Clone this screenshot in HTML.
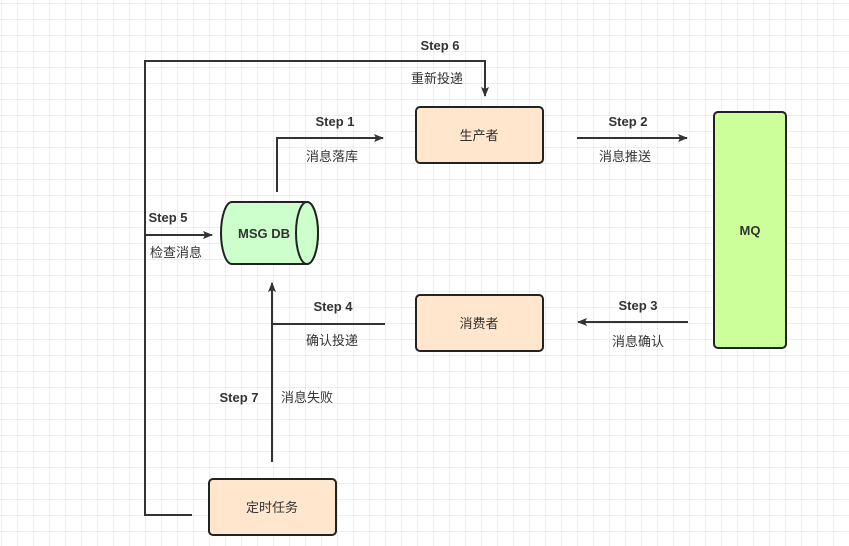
<!DOCTYPE html>
<html><head><meta charset="utf-8"><style>
html,body{margin:0;padding:0;background:#fff;}
svg{display:block;}
text{font-family:"Liberation Sans","Noto Sans CJK SC",sans-serif;font-size:13px;fill:#333;}
.b{font-weight:bold;}
</style></head><body>
<svg width="849" height="546" viewBox="0 0 849 546" xmlns="http://www.w3.org/2000/svg">
<defs>
<pattern id="g" width="16" height="16" patternUnits="userSpaceOnUse" x="2" y="4">
<path d="M16 0V16M0 16H16" fill="none" stroke="#dcdcdc" stroke-width="1"/>
</pattern>
<marker id="a" markerWidth="10" markerHeight="8" refX="9" refY="4" orient="auto" markerUnits="userSpaceOnUse">
<path d="M0 0L10 4L0 8L2 4Z" fill="#333"/>
</marker>
</defs>
<rect width="849" height="546" fill="#fff"/>
<rect x="0" y="0" width="849" height="546" fill="url(#g)"/>
<g stroke="#333" stroke-width="2" fill="none">
<path d="M192 515H145V61H485V96" marker-end="url(#a)"/>
<path d="M145 235H212" marker-end="url(#a)"/>
<path d="M277 192V138H383" marker-end="url(#a)"/>
<path d="M577 138H687" marker-end="url(#a)"/>
<path d="M688 322H578" marker-end="url(#a)"/>
<path d="M385 324H272"/>
<path d="M272 462V283" marker-end="url(#a)"/>
</g>
<rect x="416" y="107" width="127" height="56" rx="4" fill="#ffe6cc" stroke="#222" stroke-width="2"/>
<rect x="416" y="295" width="127" height="56" rx="4" fill="#ffe6cc" stroke="#222" stroke-width="2"/>
<rect x="209" y="479" width="127" height="56" rx="4" fill="#ffe6cc" stroke="#222" stroke-width="2"/>
<rect x="714" y="112" width="72" height="236" rx="4" fill="#ccff99" stroke="#222" stroke-width="2"/>
<path d="M232 202H307A11 31 0 0 1 307 264H232A11 31 0 0 1 232 202Z" fill="#ccffcc" stroke="#222" stroke-width="2"/>
<ellipse cx="307" cy="233" rx="11" ry="31" fill="#ccffcc" stroke="#222" stroke-width="2"/>
<text class="b" x="264" y="238" text-anchor="middle">MSG DB</text>
<text class="b" x="750" y="235" text-anchor="middle">MQ</text>
<text x="479" y="140" text-anchor="middle">生产者</text>
<text x="479" y="328" text-anchor="middle">消费者</text>
<text x="272" y="512" text-anchor="middle">定时任务</text>
<text class="b" x="440" y="50" text-anchor="middle">Step 6</text>
<text x="437" y="83" text-anchor="middle">重新投递</text>
<text class="b" x="335" y="126" text-anchor="middle">Step 1</text>
<text x="332" y="161" text-anchor="middle">消息落库</text>
<text class="b" x="628" y="126" text-anchor="middle">Step 2</text>
<text x="625" y="161" text-anchor="middle">消息推送</text>
<text class="b" x="168" y="222" text-anchor="middle">Step 5</text>
<text x="176" y="257" text-anchor="middle">检查消息</text>
<text class="b" x="333" y="311" text-anchor="middle">Step 4</text>
<text x="332" y="345" text-anchor="middle">确认投递</text>
<text class="b" x="638" y="310" text-anchor="middle">Step 3</text>
<text x="638" y="346" text-anchor="middle">消息确认</text>
<text class="b" x="239" y="402" text-anchor="middle">Step 7</text>
<text x="307" y="402" text-anchor="middle">消息失败</text>
</svg>
</body></html>
